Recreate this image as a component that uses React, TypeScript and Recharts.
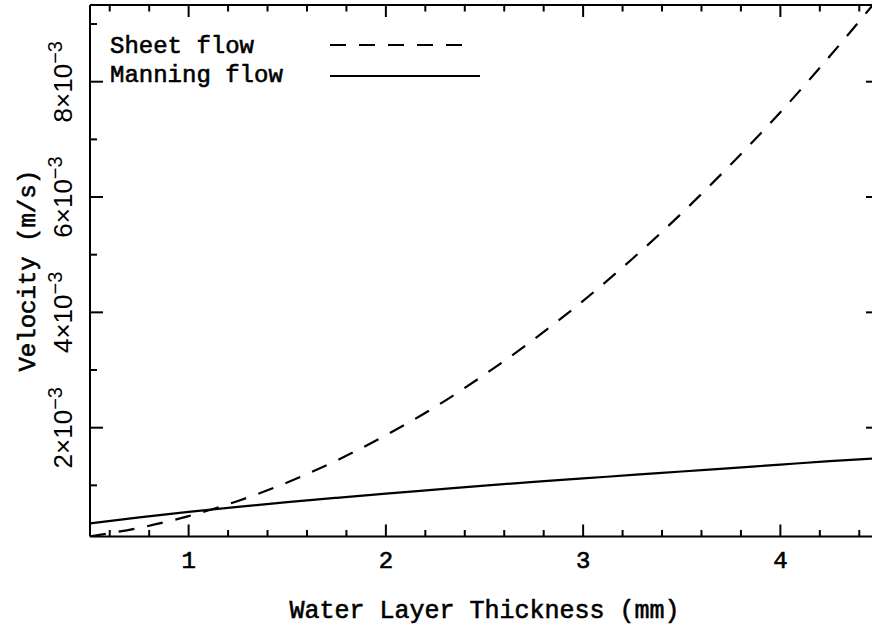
import { LineChart, Line, XAxis, YAxis, Legend } from 'recharts'

// water layer thickness (mm)
const thickness = [0.5, 0.75, 1, 1.25, 1.5, 1.75, 2, 2.25, 2.5, 2.75, 3, 3.25, 3.5, 3.75, 4, 4.25, 4.5]
// velocity (m/s)
const sheetFlow = [
  0.000117, 0.000263, 0.000467, 0.00073, 0.00105, 0.00143, 0.00187, 0.00236, 0.00292,
  0.00353, 0.0042, 0.00493, 0.00572, 0.00657, 0.00747, 0.00844, 0.00946,
]
const manningFlow = [
  0.00034, 0.000446, 0.00054, 0.000627, 0.000708, 0.000784, 0.000857, 0.000926, 0.000995,
  0.00106, 0.00112, 0.00118, 0.00124, 0.0013, 0.00136, 0.00142, 0.00147,
]

const xMajorTicks = [1, 2, 3, 4]
const xMinorTicks = [0.6, 0.8, 1.2, 1.4, 1.6, 1.8, 2.2, 2.4, 2.6, 2.8, 3.2, 3.4, 3.6, 3.8, 4.2, 4.4]
const yMajorTicks = [0.002, 0.004, 0.006, 0.008]
const yMinorTicks = [0.001, 0.003, 0.005, 0.007, 0.009]
const yTickMantissa = ['2', '4', '6', '8']
const legendOrder = ['Sheet flow', 'Manning flow']

const data = thickness.map((h, i) => ({ h, sheet: sheetFlow[i], manning: manningFlow[i] }))

const MONO = '"Liberation Mono", "DejaVu Sans Mono", monospace'
const SANS = '"Liberation Sans", Arial, sans-serif'
const INK = '#000'

const isIn = (list: number[], v: number) => list.some((t) => Math.abs(t - v) < 1e-9)

// slightly heavier mono text, closer to the plotted typewriter font
const monoText = { fontFamily: MONO, fill: INK, stroke: INK, strokeWidth: 0.6 }

function XTick({ x, y, payload, side }: any) {
  const major = isIn(xMajorTicks, payload.value)
  const len = major ? 12 : 6.5
  const dir = side === 'top' ? 1 : -1
  return (
    <g>
      <line x1={x} x2={x} y1={y} y2={y + dir * len} stroke={INK} strokeWidth={2} />
      {major && side === 'bottom' && (
        <text x={x} y={y + 31.5} textAnchor="middle" fontSize={24} {...monoText}>
          {payload.value}
        </text>
      )}
    </g>
  )
}

function YTick({ x, y, payload, side }: any) {
  const idx = yMajorTicks.findIndex((t) => Math.abs(t - payload.value) < 1e-9)
  const major = idx >= 0
  const len = major ? 13 : 7
  const dir = side === 'left' ? 1 : -1
  const bx = x - 18
  return (
    <g>
      <line x1={x} x2={x + dir * len} y1={y} y2={y} stroke={INK} strokeWidth={2} />
      {major && side === 'left' && (
        <text
          x={bx}
          y={y}
          transform={`rotate(-90, ${bx}, ${y})`}
          textAnchor="middle"
          fontFamily={SANS}
          fontSize={26}
          fill={INK}
        >
          {yTickMantissa[idx]}×10
          <tspan fontSize={20} dy={-10}>−3</tspan>
        </text>
      )}
    </g>
  )
}

function XTitle({ viewBox }: any) {
  const { x, y, width } = viewBox
  return (
    <text x={x + width / 2} y={y + 81.5} textAnchor="middle" fontSize={25} {...monoText}>
      Water Layer Thickness (mm)
    </text>
  )
}

function YTitle({ viewBox }: any) {
  const { y, height } = viewBox
  const cx = 35
  const cy = y + height / 2
  return (
    <text x={cx} y={cy} transform={`rotate(-90, ${cx}, ${cy})`} textAnchor="middle" fontSize={24} {...monoText}>
      Velocity (m/s)
    </text>
  )
}

function FlowLegend({ payload }: any) {
  const items = [...(payload || [])].sort(
    (a: any, b: any) => legendOrder.indexOf(a.value) - legendOrder.indexOf(b.value),
  )
  return (
    <svg width={500} height={100} style={{ display: 'block' }}>
      {items.map((entry: any, i: number) => {
        const dash = entry.payload?.strokeDasharray
        return (
          <g key={entry.value}>
            <text x={110} y={53 + i * 29} fontSize={24} {...monoText}>
              {entry.value}
            </text>
            <line
              x1={330}
              x2={dash ? 465 : 480}
              y1={45 + i * 31}
              y2={45 + i * 31}
              stroke={INK}
              strokeWidth={2}
              strokeDasharray={dash}
            />
          </g>
        )
      })}
    </svg>
  )
}

export default function App() {
  const domainY: [number, number] = [0.000113, 0.00933]
  return (
    <div style={{ position: 'absolute', left: 0, top: 0, width: 872, height: 630, overflow: 'hidden', background: '#fff' }}>
      <LineChart width={900} height={630} data={data} margin={{ top: 0, right: 0, bottom: 0, left: 0 }}>
        <XAxis
          xAxisId="x"
          dataKey="h"
          type="number"
          domain={[0.5, 4.5]}
          allowDataOverflow
          ticks={[...xMajorTicks, ...xMinorTicks]}
          interval={0}
          height={93.5}
          tickSize={0}
          tickMargin={0}
          tickLine={false}
          axisLine={{ stroke: INK, strokeWidth: 2 }}
          tick={<XTick side="bottom" />}
          label={<XTitle />}
        />
        <XAxis
          xAxisId="top"
          orientation="top"
          dataKey="h"
          type="number"
          domain={[0.5, 4.5]}
          allowDataOverflow
          ticks={[...xMajorTicks, ...xMinorTicks]}
          interval={0}
          height={5}
          tickSize={0}
          tickMargin={0}
          tickLine={false}
          axisLine={{ stroke: INK, strokeWidth: 2 }}
          tick={<XTick side="top" />}
        />
        <YAxis
          yAxisId="y"
          type="number"
          domain={domainY}
          allowDataOverflow
          ticks={[...yMajorTicks, ...yMinorTicks]}
          interval={0}
          width={90}
          tickSize={0}
          tickMargin={0}
          tickLine={false}
          axisLine={{ stroke: INK, strokeWidth: 2 }}
          tick={<YTick side="left" />}
          label={<YTitle />}
        />
        <YAxis
          yAxisId="right"
          orientation="right"
          type="number"
          domain={domainY}
          allowDataOverflow
          ticks={[...yMajorTicks, ...yMinorTicks]}
          interval={0}
          width={21}
          tickSize={0}
          tickMargin={0}
          tickLine={false}
          axisLine={{ stroke: INK, strokeWidth: 2 }}
          tick={<YTick side="right" />}
        />
        <Legend
          layout="vertical"
          align="center"
          verticalAlign="middle"
          wrapperStyle={{ left: 0, top: 0, width: 500, height: 100 }}
          content={<FlowLegend />}
        />
        <Line
          xAxisId="x"
          yAxisId="y"
          name="Sheet flow"
          dataKey="sheet"
          type="monotone"
          stroke={INK}
          strokeWidth={2.2}
          strokeDasharray="16 13"
          dot={false}
          activeDot={false}
          isAnimationActive={false}
        />
        <Line
          xAxisId="x"
          yAxisId="y"
          name="Manning flow"
          dataKey="manning"
          type="monotone"
          stroke={INK}
          strokeWidth={2.2}
          dot={false}
          activeDot={false}
          isAnimationActive={false}
        />
      </LineChart>
    </div>
  )
}
